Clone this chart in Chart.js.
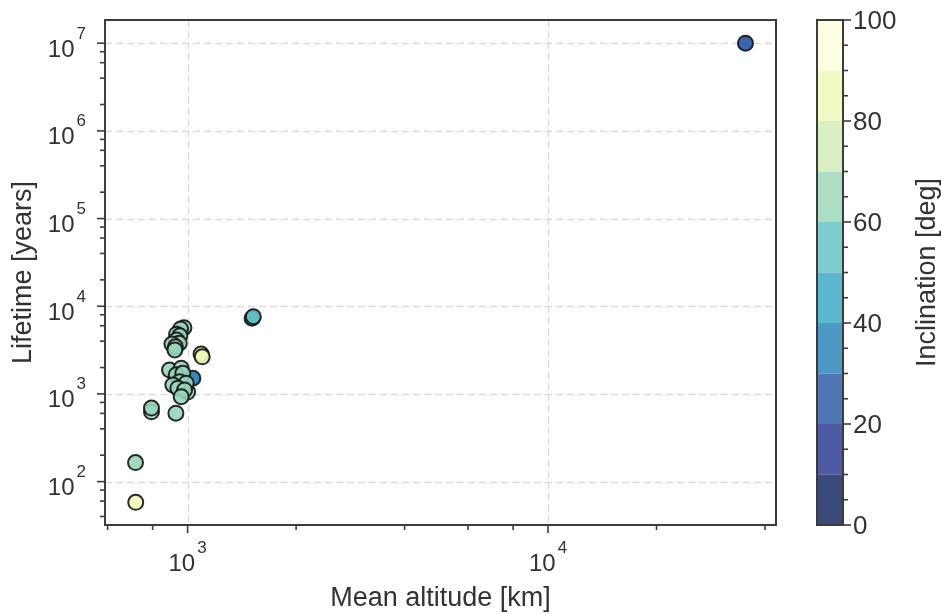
<!DOCTYPE html>
<html>
<head>
<meta charset="utf-8">
<title>Lifetime vs mean altitude</title>
<script src="https://cdn.jsdelivr.net/npm/chart.js@4.4.1/dist/chart.umd.min.js"></script>
<style>
  html, body { margin: 0; padding: 0; background: #fff; }
  canvas { display: block; }
</style>
</head>
<body>
<canvas id="chart" width="941" height="614"></canvas>
<script>
// ================== Data ==================
const altitude = [
  35300, 1510, 1522, 1090, 1098, 1034, 717, 718, 794, 794, 928,
  977, 956, 932, 952, 932, 948, 905, 925, 922,
  1000, 891, 960, 930, 970, 950, 910, 991, 940, 981, 960
];
const lifetime = [
  1.0e7, 7300, 7600, 2850, 2650, 1510, 165, 58, 625, 690, 603,
  5700, 5510, 4800, 4600, 4130, 3790, 3700, 3450, 3180,
  1050, 1880, 1965, 1650, 1722, 1380, 1266, 1325, 1162, 1111, 931
];
const inclination = [
  25, 55, 55, 85, 85, 35, 65, 85, 65, 65, 65,
  65, 65, 65, 65, 65, 65, 65, 65, 65,
  65, 65, 65, 65, 65, 65, 65, 65, 65, 65, 65
];

const cbarLevels = [0, 10, 20, 30, 40, 50, 60, 70, 80, 90, 100];
const cbarTicks = [0, 20, 40, 60, 80, 100];
const cbarMinorStep = 5;

const xLabel = "Mean altitude [km]";
const yLabel = "Lifetime [years]";
const cbarLabel = "Inclination [deg]";

// ================== Helpers ==================
const FONT = '"Liberation Sans", Arial, sans-serif';
const INK = "#333333";
const SPINE = "#3c3c3c";
const YLGNBU = ["#ffffd9", "#edf8b1", "#c7e9b4", "#7fcdbb", "#41b6c4",
                "#1d91c0", "#225ea8", "#253494", "#081d58"];

const hexToRgb = (h) => [1, 3, 5].map((i) => parseInt(h.slice(i, i + 2), 16));

// reversed YlGnBu: t = 0 -> dark navy, t = 1 -> pale yellow
function ylgnbuR(t) {
  const s = (1 - t) * (YLGNBU.length - 1);
  const i = Math.min(Math.floor(s), YLGNBU.length - 2);
  const f = s - i;
  const a = hexToRgb(YLGNBU[i]);
  const b = hexToRgb(YLGNBU[i + 1]);
  return a.map((v, k) => Math.round(v + (b[k] - v) * f));
}

function levelColor(inc, alpha) {
  const n = cbarLevels.length - 1;
  let lvl = Math.floor((inc - cbarLevels[0]) / (cbarLevels[n] - cbarLevels[0]) * n);
  lvl = Math.max(0, Math.min(n - 1, lvl));
  return `rgba(${ylgnbuR(lvl / (n - 1)).join(",")},${alpha})`;
}

// mantissa of a log tick: 1 for decades, 2..9 for minors
function mantissa(v) {
  const e = Math.floor(Math.log10(v) + 1e-9);
  return { m: v / Math.pow(10, e), e };
}
const isWhole = (m) => Math.abs(m - Math.round(m)) < 1e-6;

function drawPow(ctx, exp, px, py, align) {
  ctx.font = `24px ${FONT}`;
  const wBase = ctx.measureText("10").width;
  ctx.font = `17px ${FONT}`;
  const wExp = ctx.measureText(String(exp)).width;
  const total = wBase + 2 + wExp;
  const left = align === "center" ? px - total / 2 : px - total;
  ctx.textAlign = "left";
  ctx.textBaseline = "alphabetic";
  ctx.font = `24px ${FONT}`;
  ctx.fillText("10", left, py);
  ctx.font = `17px ${FONT}`;
  ctx.fillText(String(exp), left + wBase + 2, py - 18);
}

// ================== Axes / colorbar decoration ==================
const decorPlugin = {
  id: "decor",
  beforeDatasetsDraw(chart) {
    const { ctx, chartArea: a, scales: { x, y } } = chart;
    ctx.save();
    ctx.strokeStyle = "#dadada";
    ctx.lineWidth = 1.3;
    ctx.setLineDash([7, 4]);
    x.ticks.forEach((t) => {
      if (Math.abs(mantissa(t.value).m - 1) > 1e-6) return;
      const px = Math.round(x.getPixelForValue(t.value)) + 0.5;
      ctx.beginPath(); ctx.moveTo(px, a.top); ctx.lineTo(px, a.bottom); ctx.stroke();
    });
    y.ticks.forEach((t) => {
      if (Math.abs(mantissa(t.value).m - 1) > 1e-6) return;
      const py = Math.round(y.getPixelForValue(t.value)) + 0.5;
      ctx.beginPath(); ctx.moveTo(a.left, py); ctx.lineTo(a.right, py); ctx.stroke();
    });
    ctx.restore();
  },
  afterDraw(chart) {
    const { ctx, chartArea: a, scales: { x, y, cbar } } = chart;
    ctx.save();

    // spines
    ctx.strokeStyle = SPINE;
    ctx.lineWidth = 2;
    ctx.strokeRect(a.left, a.top, a.right - a.left, a.bottom - a.top);

    // x ticks + labels
    ctx.fillStyle = INK;
    ctx.lineWidth = 1.6;
    x.ticks.forEach((t) => {
      const { m, e } = mantissa(t.value);
      if (!isWhole(m)) return;
      const major = Math.round(m) === 1;
      const px = x.getPixelForValue(t.value);
      ctx.beginPath();
      ctx.moveTo(px, a.bottom + 1);
      ctx.lineTo(px, a.bottom + (major ? 8 : 5));
      ctx.stroke();
      if (major) drawPow(ctx, e, px, a.bottom + 46, "center");
    });

    // y ticks + labels
    y.ticks.forEach((t) => {
      const { m, e } = mantissa(t.value);
      if (!isWhole(m)) return;
      const major = Math.round(m) === 1;
      const py = y.getPixelForValue(t.value);
      ctx.beginPath();
      ctx.moveTo(a.left - 1, py);
      ctx.lineTo(a.left - (major ? 8 : 5), py);
      ctx.stroke();
      if (major) drawPow(ctx, e, a.left - 19, py + 13.5, "right");
    });

    // axis titles
    ctx.font = `27px ${FONT}`;
    ctx.textAlign = "center";
    ctx.textBaseline = "alphabetic";
    ctx.fillText(xLabel, (a.left + a.right) / 2, 606);
    ctx.save();
    ctx.translate(31, (a.top + a.bottom) / 2);
    ctx.rotate(-Math.PI / 2);
    ctx.fillText(yLabel, 0, 0);
    ctx.restore();

    // colorbar
    const cx0 = 817, cx1 = 843;
    for (let i = 0; i < cbarLevels.length - 1; i++) {
      const yTop = cbar.getPixelForValue(cbarLevels[i + 1]);
      const yBot = cbar.getPixelForValue(cbarLevels[i]);
      ctx.fillStyle = levelColor((cbarLevels[i] + cbarLevels[i + 1]) / 2, 0.8);
      ctx.fillRect(cx0, yTop, cx1 - cx0, yBot - yTop);
    }
    ctx.strokeStyle = SPINE;
    ctx.lineWidth = 2;
    ctx.strokeRect(cx0, cbar.getPixelForValue(100), cx1 - cx0,
      cbar.getPixelForValue(0) - cbar.getPixelForValue(100));

    ctx.lineWidth = 1.6;
    for (let v = cbarLevels[0]; v <= cbarLevels[cbarLevels.length - 1]; v += cbarMinorStep) {
      const py = cbar.getPixelForValue(v);
      const major = cbarTicks.includes(v);
      ctx.beginPath();
      ctx.moveTo(cx1 + 1, py);
      ctx.lineTo(cx1 + (major ? 8 : 5), py);
      ctx.stroke();
    }
    ctx.fillStyle = INK;
    ctx.font = `26px ${FONT}`;
    ctx.textAlign = "left";
    ctx.textBaseline = "alphabetic";
    cbarTicks.forEach((v) => {
      ctx.fillText(String(v), 853, cbar.getPixelForValue(v) + 9.3);
    });

    ctx.font = `27px ${FONT}`;
    ctx.textAlign = "center";
    ctx.save();
    ctx.translate(935, (a.top + a.bottom) / 2);
    ctx.rotate(-Math.PI / 2);
    ctx.fillText(cbarLabel, 0, 0);
    ctx.restore();

    ctx.restore();
  },
};

// ================== Chart ==================
const points = altitude.map((alt, i) => ({ x: alt, y: lifetime[i] }));

new Chart(document.getElementById("chart").getContext("2d"), {
  type: "scatter",
  data: {
    datasets: [{
      label: "satellites",
      data: points,
      pointRadius: 7.5,
      pointHoverRadius: 7.5,
      pointBorderWidth: 2,
      pointBorderColor: "rgba(20,20,20,0.9)",
      pointBackgroundColor: inclination.map((inc) => levelColor(inc, 0.9)),
    }],
  },
  options: {
    responsive: false,
    animation: false,
    events: [],
    layout: { padding: { left: 105, right: 165, top: 20, bottom: 89 } },
    plugins: { legend: { display: false }, tooltip: { enabled: false } },
    scales: {
      x: { type: "logarithmic", min: 590, max: 42900, display: false },
      y: { type: "logarithmic", min: 32, max: 1.84e7, display: false },
      cbar: { type: "linear", axis: "y", position: "right", min: 0, max: 100, display: false },
    },
  },
  plugins: [decorPlugin],
});
</script>
</body>
</html>
